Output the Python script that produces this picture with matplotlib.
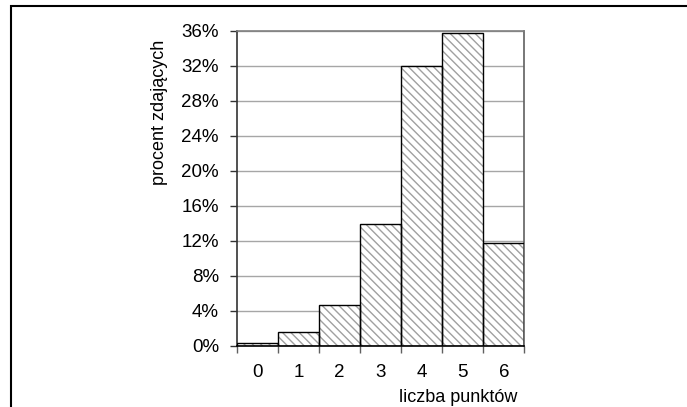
import matplotlib
matplotlib.use("Agg")
import matplotlib.pyplot as plt
from matplotlib.patches import Rectangle
import numpy as np

categories = ["0", "1", "2", "3", "4", "5", "6"]
values = [0.38, 1.6, 4.65, 13.93, 32.0, 35.7, 11.73]
yticks = [0, 4, 8, 12, 16, 20, 24, 28, 32, 36]
ylabel = "procent zdających"
xlabel = "liczba punktów"

plt.rcParams['font.family'] = ['Liberation Sans', 'DejaVu Sans']
plt.rcParams['hatch.linewidth'] = 1.0

W, H = 687, 407
fig = plt.figure(figsize=(W / 100, H / 100), dpi=100)
fig.patch.set_facecolor("white")

# outer frame (cut by the image edges on right and bottom)
fig.add_artist(Rectangle((11 / W, -0.1), 1.2, 1.1 - 6 / H, transform=fig.transFigure,
                         fill=False, edgecolor="black", linewidth=1.5, clip_on=False))

ax = fig.add_axes([237 / W, 61 / H, (524.3 - 237) / W, (346 - 30.7) / H])
x = np.arange(len(categories))

ax.set_axisbelow(True)
ax.yaxis.grid(True, color="#a6a6a6", linewidth=1.0)
ax.bar(x, values, width=1.0, color="white", edgecolor="#a0a0a0", linewidth=0,
       hatch="\\\\\\\\", zorder=2)
ax.bar(x, values, width=1.0, fill=False, edgecolor="black", linewidth=1.0, zorder=3)

ax.set_xlim(-0.5, len(categories) - 0.5)
ax.set_ylim(0, 36)
ax.set_yticks(yticks)
ax.set_yticklabels([f"{v}%" for v in yticks], fontsize=13.5)
ax.set_xticks(x)
ax.set_xticklabels(categories, fontsize=13.5)
ax.set_xticks(np.arange(len(categories) + 1) - 0.5, minor=True)
ax.tick_params(axis="x", which="major", length=0, pad=13)
ax.tick_params(axis="x", which="minor", length=5, width=1, color="#606060", direction="out")
ax.tick_params(axis="y", length=5, width=1, color="#333333", direction="out", pad=8)

ax.spines["left"].set_color("#333333")
ax.spines["bottom"].set_color("black")
ax.spines["top"].set_color("#7f7f7f")
ax.spines["right"].set_color("#606060")
for s in ax.spines.values():
    s.set_linewidth(1.2)

fig.text(160 / W, 1 - 112 / H, ylabel, rotation=90, ha="center", va="center", fontsize=13)
fig.text(517 / W, 1 - 397 / H, xlabel, ha="right", va="center", fontsize=13)

fig.savefig("out.png", dpi=100)
